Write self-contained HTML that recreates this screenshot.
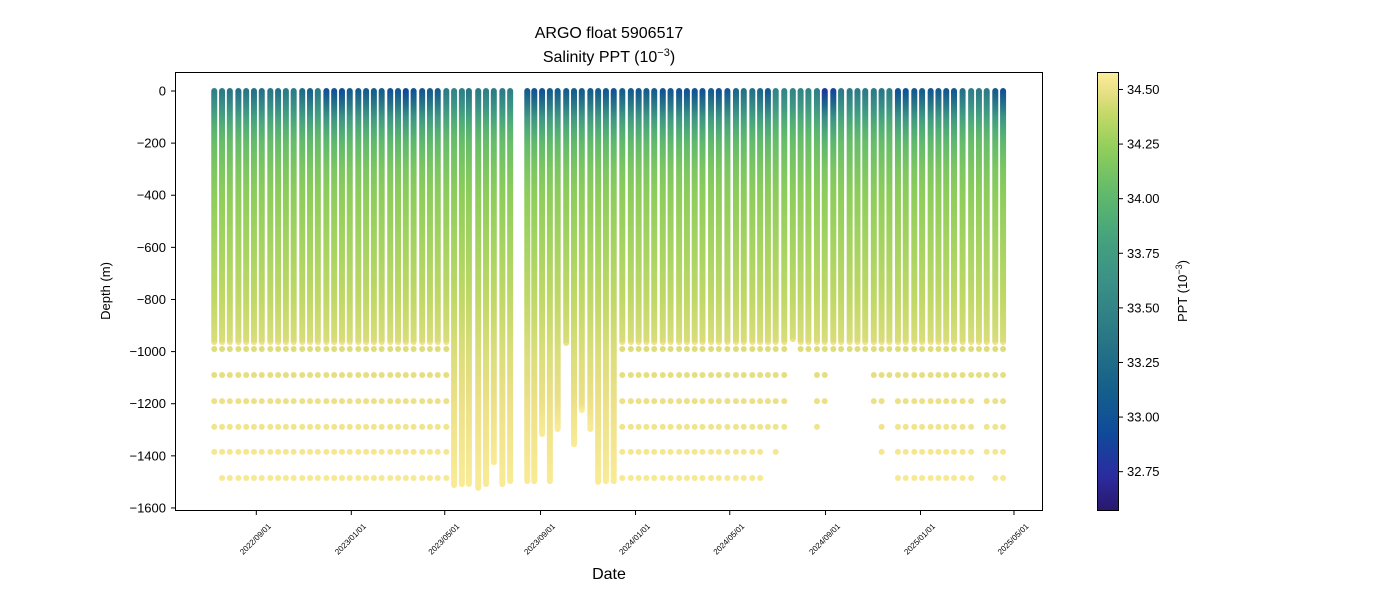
<!DOCTYPE html>
<html><head><meta charset="utf-8"><style>
body{margin:0;background:#fff}
svg{display:block;font-family:"Liberation Sans","DejaVu Sans",sans-serif}
</style></head><body>
<svg id="chart" width="1400" height="600" viewBox="0 0 1400 600">
<defs id="defs"></defs>
<text x="609" y="38" font-size="16" text-anchor="middle" fill="#000">ARGO float 5906517</text>
<text x="609" y="62" font-size="16" text-anchor="middle" fill="#000">Salinity PPT (10<tspan dy="-6" font-size="11">−3</tspan><tspan dy="6">)</tspan></text>
<g id="plot"></g>
<rect x="175.5" y="72.5" width="867" height="438" fill="none" stroke="#000" stroke-width="1"/>
<g id="yaxis"></g>
<g id="xaxis"></g>
<text transform="translate(110,291) rotate(-90)" font-size="13" text-anchor="middle">Depth (m)</text>
<text x="609" y="579" font-size="16" text-anchor="middle">Date</text>
<g id="cbar"></g>
<text transform="translate(1187,291) rotate(-90)" font-size="13" text-anchor="middle">PPT (10<tspan dy="-5" font-size="9">−3</tspan><tspan dy="5">)</tspan></text>
</svg>
<script>
// ---- data ----
const profileDays = [-54,-44,-34,-23,-13,-3,7,18,28,38,48,59,69,79,90,100,110,120,131,141,151,161,172,182,192,202,213,223,233,244,
254,264,273,285,295,305,316,326,348,357,367,377,387,398,408,418,429,439,449,459,
470,481,491,501,511,522,532,543,553,563,573,584,594,605,616,626,637,647,657,667,678,689,699,709,720,730,741,751,762,772,782,793,803,813,824,834,845,855,866,876,886,896,907,918,928,938,949,959];
const maxDepth = [963,963,963,963,963,963,963,963,963,963,963,963,963,963,963,963,963,963,963,963,963,963,963,963,963,963,963,963,963,963,
1512,1508,1508,1523,1508,1424,1508,1497,1497,1497,1316,1497,1297,967,1355,1224,1297,1500,1497,1497,
963,963,963,963,963,963,963,963,963,963,963,963,963,963,963,963,963,963,963,963,963,952,963,963,963,963,963,963,963,963,963,963,963,963,963,963,963,963,963,963,963,963,963,963,963,963,963,963];
const surfSal = [33.45,33.4,33.35,33.3,33.35,33.3,33.3,33.35,33.3,33.4,33.4,33.25,33.15,33.4,33.0,33.0,32.95,33.1,33.1,33.1,33.1,33.1,33.0,33.05,32.9,33.0,33.05,33.1,33.1,33.4,
33.5,33.45,33.35,33.4,33.45,33.4,33.4,33.45,33.1,33.0,33.0,33.1,33.1,33.1,33.1,33.1,33.1,33.1,33.05,33.0,
33.1,33.1,33.05,33.1,33.1,33.0,33.05,33.0,33.0,33.0,33.0,33.1,33.0,33.05,33.2,33.3,33.3,33.2,33.05,33.5,33.5,33.5,33.5,33.5,33.45,32.8,32.9,33.4,33.4,33.4,33.4,33.4,33.35,33.45,33.0,33.0,33.05,33.1,33.05,33.1,33.05,33.05,33.3,33.45,33.4,33.4,33.1,33.0];
const deepDots = ["111110","111111","111111","111111","111111","111111","111111","111111","111111","111111","111111","111111","111111","111111","111111","111111","111111","111111","111111","111111","111111","111111","111111","111111","111111","111111","111111","111111","111111","111111",
"000000","000000","000000","000000","000000","000000","000000","000000","000000","000000","000000","000000","000000","000000","000000","000000","000000","000000","000000","000000",
"111111","111111","111111","111111","111111","111111","111111","111111","111111","111111","111111","111111","111111","111111","111111","111111","111111","111111","111100","111110","111100","000000","100000","100000","111100","111000","100000","100000","100000","100000","100000","111000","111110","110000",
"111111","111111","111111","111111","111111","111111","111111","111111","111111","111111","110000","111110","111111","111111"];
const dotLevels = [990,1090,1190,1289,1385,1485];
const dotSal = [34.46,34.48,34.5,34.52,34.54,34.55];
const refDepths = [0,50,100,150,200,300,400,600,800,1000,1200,1500];
const meanSal = [33.35,33.55,33.8,33.95,34.05,34.15,34.22,34.3,34.38,34.45,34.5,34.56];
const surfWeight = [1,0.7,0.4,0.2,0.1,0,0,0,0,0,0,0];
const yTicks = [0,-200,-400,-600,-800,-1000,-1200,-1400,-1600];
const xTickDays = [0,122,242,365,487,608,731,853,973];
const xTickLabels = ["2022/09/01","2023/01/01","2023/05/01","2023/09/01","2024/01/01","2024/05/01","2024/09/01","2025/01/01","2025/05/01"];
const cbTicks = [32.75,33.0,33.25,33.5,33.75,34.0,34.25,34.5];
const vmin = 32.57, vmax = 34.58;

// ---- scales ----
const X = d => 256.3 + d*0.7787;
const Y = v => 91 + (-v)*0.2606;
const stops=[[0,[42,24,108]],[0.08,[43,44,160]],[0.18,[15,76,154]],[0.28,[21,96,138]],[0.4,[42,120,134]],[0.52,[58,144,134]],[0.62,[69,162,126]],[0.72,[95,185,108]],[0.82,[141,205,91]],[0.9,[192,216,102]],[0.96,[236,224,136]],[1,[253,238,154]]];
function cmap(s){let t=Math.max(0,Math.min(1,(s-vmin)/(vmax-vmin)));for(let i=1;i<stops.length;i++){if(t<=stops[i][0]){const a=stops[i-1],b=stops[i];const f=(t-a[0])/(b[0]-a[0]);const c=a[1].map((v,k)=>Math.round(v+(b[1][k]-v)*f));return `rgb(${c})`;}}return 'rgb(253,238,154)';}
const NS="http://www.w3.org/2000/svg";
function mk(tag,attrs,parent){const e=document.createElementNS(NS,tag);for(const k in attrs)e.setAttribute(k,attrs[k]);parent.appendChild(e);return e;}
const defs=document.getElementById('defs'),plot=document.getElementById('plot');

profileDays.forEach((d,i)=>{
  const x=X(d), md=maxDepth[i];
  const g=mk('linearGradient',{id:'g'+i,gradientUnits:'userSpaceOnUse',x1:0,x2:0,y1:Y(0),y2:Y(-md)},defs);
  refDepths.forEach((rd,k)=>{ if(rd<=md+300){const s=meanSal[k]+(surfSal[i]-33.35)*surfWeight[k];
    mk('stop',{offset:Math.min(1,rd/md),'stop-color':cmap(s)},g);} });
  const ln=mk('line',{x1:x,x2:x,y1:Y(0),y2:Y(-md),stroke:`url(#g${i})`,'stroke-width':6,'stroke-linecap':'round'},plot);
  
  
  dotLevels.forEach((lv,k)=>{ if(deepDots[i][k]==='1'){
    const c=mk('circle',{cx:x,cy:Y(-lv),r:3,fill:cmap(dotSal[k])},plot);
    
    
  }});
});

const ya=document.getElementById('yaxis');
yTicks.forEach(v=>{const y=Y(v);
  mk('line',{x1:171,x2:175.5,y1:y,y2:y,stroke:'#000'},ya);
  const t=mk('text',{x:166,y:y+4.5,'font-size':13,'text-anchor':'end'},ya);t.textContent=v<0?'−'+(-v):v;
  
  
});
const xa=document.getElementById('xaxis');
xTickDays.forEach((d,i)=>{const x=X(d);
  mk('line',{x1:x,x2:x,y1:510.5,y2:515,stroke:'#000'},xa);
  const t=mk('text',{transform:`translate(${x+1},${541}) rotate(-45)`,'font-size':8,'text-anchor':'middle'},xa);t.textContent=xTickLabels[i];
  
  
});
const cb=document.getElementById('cbar');
const cg=mk('linearGradient',{id:'cbg',x1:0,x2:0,y1:1,y2:0},defs);
for(let i=0;i<=40;i++){const s=vmin+(vmax-vmin)*i/40;mk('stop',{offset:i/40,'stop-color':cmap(s)},cg);}
mk('rect',{x:1097.5,y:72.5,width:21,height:438,fill:'url(#cbg)',stroke:'#000'},cb);
const CY=s=>72+(vmax-s)*218.4;
cbTicks.forEach(s=>{const y=CY(s);
  mk('line',{x1:1118.5,x2:1123,y1:y,y2:y,stroke:'#000'},cb);
  const t=mk('text',{x:1127,y:y+4.5,'font-size':13},cb);t.textContent=s.toFixed(2);
  
  
});
</script>
</body></html>
